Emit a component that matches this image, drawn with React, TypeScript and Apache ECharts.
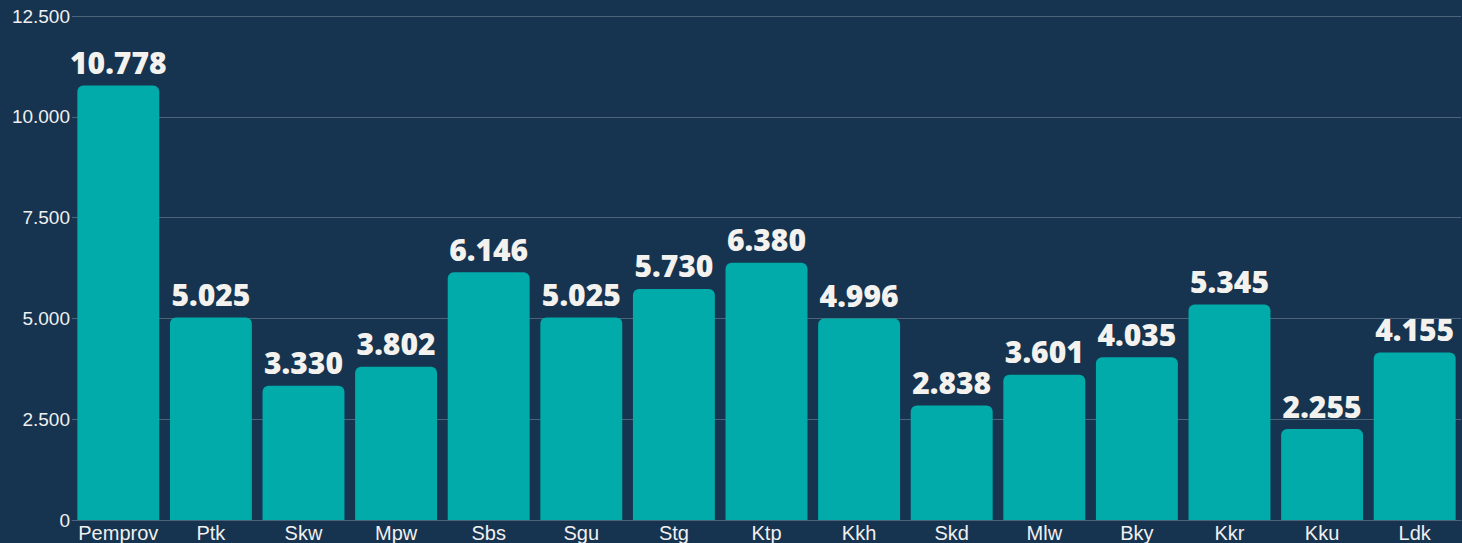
import React, { useEffect, useRef } from "react";
import * as echarts from "echarts";

const categories = ["Pemprov", "Ptk", "Skw", "Mpw", "Sbs", "Sgu", "Stg", "Ktp", "Kkh", "Skd", "Mlw", "Bky", "Kkr", "Kku", "Ldk"];
const values = [10778, 5025, 3330, 3802, 6146, 5025, 5730, 6380, 4996, 2838, 3601, 4035, 5345, 2255, 4155];
const yTicks = [0, 2500, 5000, 7500, 10000, 12500];

const fmt = (v: number) => String(Math.round(v)).replace(/\B(?=(\d{3})+(?!\d))/g, ".");

export default function App() {
  const ref = useRef<HTMLDivElement>(null);
  useEffect(() => {
    if (!ref.current) return;
    const chart = echarts.init(ref.current, null, { renderer: "svg" });
    chart.setOption({
      animation: false,
      backgroundColor: "#16334f",
      grid: { left: 72, right: 1, top: 16, bottom: 22, containLabel: false },
      xAxis: {
        type: "category",
        data: categories,
        axisLine: { show: true, lineStyle: { color: "#4b6479", width: 1 } },
        axisTick: { show: false },
        axisLabel: { color: "#f0f0f0", fontSize: 20, fontFamily: "Liberation Sans, Arial, sans-serif", margin: 3, interval: 0 },
      },
      yAxis: {
        type: "value",
        min: yTicks[0],
        max: yTicks[yTicks.length - 1],
        interval: yTicks[1] - yTicks[0],
        axisLine: { show: false },
        axisTick: { show: false },
        splitLine: { lineStyle: { color: "#4b6479", width: 1 } },
        axisLabel: { color: "#f0f0f0", fontSize: 19, fontFamily: "Liberation Sans, Arial, sans-serif", margin: 2, formatter: (v: number) => fmt(v) },
      },
      series: [
        {
          type: "bar",
          data: values,
          barCategoryGap: "11.5%",
          itemStyle: { color: "#00aba9", borderRadius: [6, 6, 0, 0] },
          label: {
            show: true,
            position: "top",
            distance: 8,
            color: "#f3f2ee",
            fontSize: 30,
            fontWeight: 800,
            fontFamily: "Open Sans, sans-serif",
            formatter: (p: any) => fmt(p.value),
          },
        },
      ],
    });
    return () => chart.dispose();
  }, []);
  return <div ref={ref} style={{ position: "fixed", left: 0, top: 0, width: 1462, height: 543 }} />;
}
